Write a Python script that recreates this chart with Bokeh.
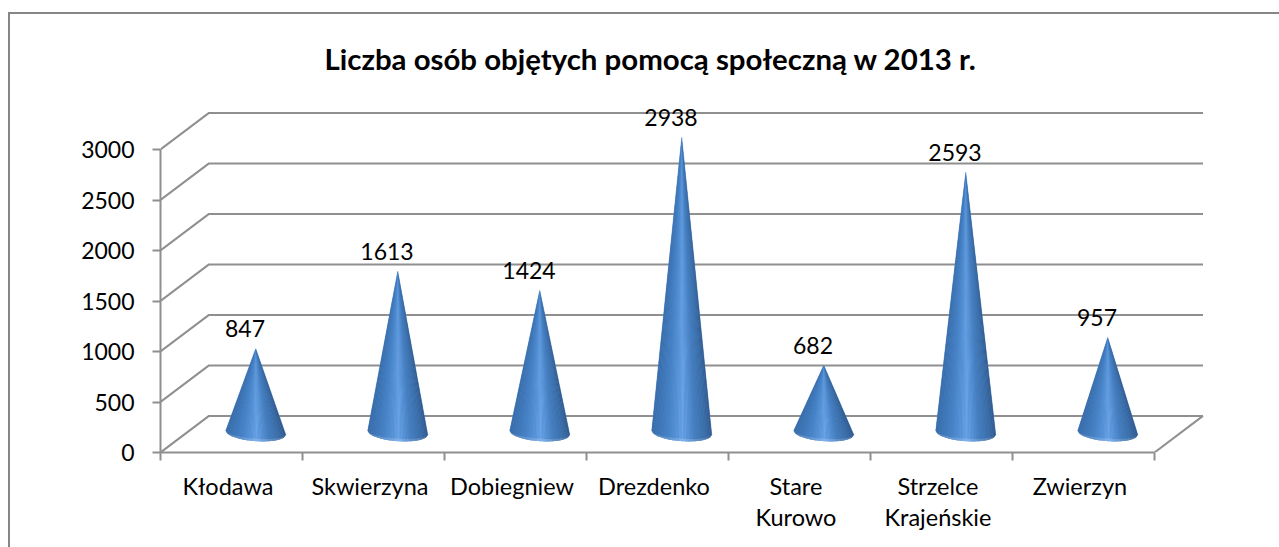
import math
from bokeh.plotting import figure
from bokeh.models import FixedTicker, LinearAxis, Range1d, Title, InlineStyleSheet
from bokeh.core.properties import value
from bokeh.embed import file_html
from bokeh.resources import INLINE

title_text = "Liczba osób objętych pomocą społeczną w 2013 r."
categories = ["Kłodawa", "Skwierzyna", "Dobiegniew", "Drezdenko", "Stare\nKurowo", "Strzelce\nKrajeńskie", "Zwierzyn"]
people = [847, 1613, 1424, 2938, 682, 2593, 957]
y_ticks = [0, 500, 1000, 1500, 2000, 2500, 3000]

GREY = "#8f8f8f"
FONT = "Lato"

# pixel scales of the plot frame
PX_X = 142.0
PX_Y = 0.101
DEPTH_X = 48.5 / PX_X
DEPTH_Y = 36.6 / PX_Y
W, H = 1279, 547
LEFT, BOTTOM, TOP = 160, 95, 95
x_end = (W - LEFT) / PX_X
y_end = (H - BOTTOM - TOP) / PX_Y

p = figure(width=W, height=H, output_backend="svg", toolbar_location=None,
           x_range=Range1d(0, x_end), y_range=Range1d(0, y_end),
           x_axis_type=None, y_axis_type=None,
           min_border_left=LEFT, min_border_right=0, min_border_top=TOP, min_border_bottom=BOTTOM,
           outline_line_color=None, background_fill_color="white", border_fill_color="white")
p.grid.visible = False
p.title = Title(text=title_text, text_font=FONT, text_font_style="bold", text_font_size="29.4px",
                text_color="black", align="left", offset=164, standoff=39)

# outer chart border, running off the page like the reference
p.stylesheets = [InlineStyleSheet(css=":host::after { content: ''; position: absolute; left: 8px; top: 12px; "
                                      "right: 0; bottom: 0; border-left: 2px solid #868686; "
                                      "border-top: 2px solid #868686; pointer-events: none; }")]

# wall and floor lines
n = len(categories)
gx, gy = [], []
for t in y_ticks:
    gx.append([0, DEPTH_X, n + DEPTH_X])
    gy.append([t, t + DEPTH_Y, t + DEPTH_Y])
gx.append([n, n + DEPTH_X])
gy.append([0, DEPTH_Y])
p.multi_line(gx, gy, line_color=GREY, line_width=2)

# axes
yaxis = LinearAxis(ticker=FixedTicker(ticks=y_ticks), bounds=(0, 3000),
                   axis_line_color=GREY, axis_line_width=2,
                   major_tick_line_color=GREY, major_tick_line_width=2, major_tick_in=0, major_tick_out=8,
                   minor_tick_line_color=None,
                   major_label_text_font=FONT, major_label_text_font_size="23px", major_label_text_color="black",
                   major_label_standoff=18)
p.add_layout(yaxis, "left")

centers = [i + 0.5 for i in range(n)]
label_pos = [c - 0.025 for c in centers]
xaxis = LinearAxis(ticker=FixedTicker(ticks=label_pos, minor_ticks=list(range(n + 1))), bounds=(0, n),
                   axis_line_color=GREY, axis_line_width=2,
                   major_tick_line_color=None, major_tick_in=0, major_tick_out=0,
                   minor_tick_line_color=GREY, minor_tick_line_width=2, minor_tick_in=0, minor_tick_out=8,
                   major_label_overrides={c: lab for c, lab in zip(label_pos, categories)},
                   major_label_text_font=FONT, major_label_text_font_size="23.5px", major_label_text_color="black",
                   major_label_text_line_height=1.135, major_label_standoff=11)
p.add_layout(xaxis, "below")

# shaded cones
STOPS = [(-1.0, (0x3a, 0x6c, 0xa8)), (-0.7, (0x3f, 0x78, 0xba)), (-0.4, (0x4a, 0x86, 0xca)),
         (-0.12, (0x5c, 0x97, 0xdc)), (0.0, (0x6c, 0xa5, 0xe8)), (0.15, (0x5f, 0x9a, 0xde)),
         (0.45, (0x45, 0x7e, 0xbf)), (0.8, (0x3a, 0x6c, 0xa6)), (1.0, (0x33, 0x5a, 0x8c))]


def shade(u, lift=0.0):
    for (a, ca), (b, cb) in zip(STOPS, STOPS[1:]):
        if a <= u <= b:
            f = (u - a) / (b - a)
            rgb = [ca[k] + (cb[k] - ca[k]) * f for k in range(3)]
            rgb = [c + (255 - c) * lift for c in rgb]
            return "#%02x%02x%02x" % tuple(int(round(c)) for c in rgb)
    return "#%02x%02x%02x" % STOPS[-1][1]


RX = 30 / PX_X
RY = 8.5 / PX_Y
TILT = 2.0 / PX_Y
RIM = 2.5 / PX_Y
STRIPS = 40
px, py, colors = [], [], []
rx_, ry_, rim_colors = [], [], []
bx, by = [], []


def edge(cx, cy, u):
    # base edge of the cone seen from slightly above
    return cx + RX * u, cy - RY * math.sqrt(max(0.0, 1 - u * u)) - TILT * u


for i, v in enumerate(people):
    cx = centers[i] + DEPTH_X / 2
    cy = DEPTH_Y / 2 + 15
    apex = DEPTH_Y / 2 + v
    sil_x, sil_y = [cx], [apex]
    for s in range(STRIPS):
        u0 = -1 + 2 * s / STRIPS
        u1 = -1 + 2 * (s + 1) / STRIPS
        x0, y0 = edge(cx, cy, u0)
        x1, y1 = edge(cx, cy, u1)
        um = (u0 + u1) / 2
        px.append([cx, x0, x1])
        py.append([apex, y0, y1])
        colors.append(shade(um))
        k0, k1 = math.sqrt(max(0, 1 - u0 * u0)), math.sqrt(max(0, 1 - u1 * u1))
        rx_.append([x0, x1, x1, x0])
        ry_.append([y0, y1, y1 + RIM * k1, y0 + RIM * k0])
        rim_colors.append(shade(um, 0.15))
        sil_x.append(x0)
        sil_y.append(y0 + RIM * k0)
    sil_x.append(edge(cx, cy, 1)[0])
    sil_y.append(edge(cx, cy, 1)[1])
    bx.append(sil_x)
    by.append(sil_y)

# a plain cone underneath hides the hairline seams between the shading strips
p.patches(bx, by, fill_color="#4a84c6", line_color="#4a84c6", line_width=0.5)
p.patches(px, py, fill_color=colors, line_color=None)
p.patches(rx_, ry_, fill_color=rim_colors, line_color=None)

# value labels
p.text([c + 0.095 for c in centers], [v + 376 for v in people], text=[str(v) for v in people],
       text_font=value(FONT), text_font_size="23px", text_color="black",
       text_align="center", text_baseline="middle")

open("out.html", "w").write(file_html(p, INLINE))
